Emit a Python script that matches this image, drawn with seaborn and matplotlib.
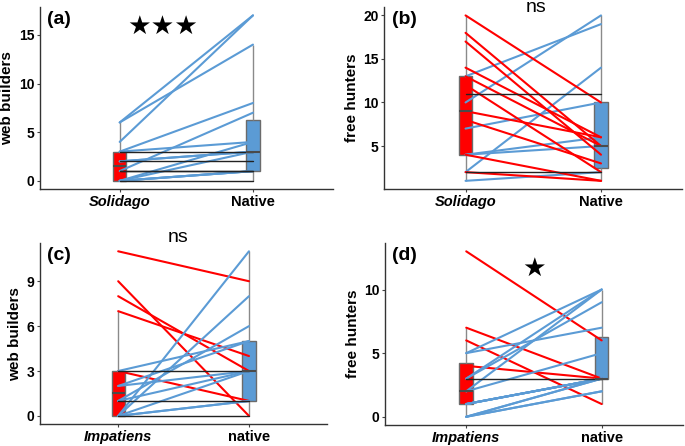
import matplotlib
matplotlib.use("Agg")
import matplotlib.pyplot as plt
import seaborn as sns
import pandas as pd

# pares (invasora -> nativa) em cada painel
a_inv = [6, 6, 4, 3, 3, 3, 1, 1, 1, 2, 2, 2, 0, 0, 0, 0, 0, 0]
a_nat = [17, 14, 17, 8, 4, 3, 7, 1, 1, 2, 3, 3, 0, 1, 1, 1, 3, 4]

b_inv = [10, 13, 2, 7, 4, 4, 1, 11, 2, 20, 18, 17, 14, 13, 12, 9, 8, 4, 2]
b_nat = [20, 19, 14, 10, 6, 5, 2, 11, 2, 10, 5, 4, 6, 5, 2, 6, 3, 1, 1]

c_inv = [11, 9, 8, 7, 3, 3, 1, 0, 0, 0, 1, 3, 2, 2, 1, 0, 0, 0]
c_nat = [9, 0, 3, 4, 1, 3, 1, 0, 11, 8, 6, 5, 5, 3, 3, 3, 1, 1]

d_inv = [13, 7, 6, 4, 3, 5, 5, 3, 3, 2, 2, 0, 0, 0, 0, 1, 1, 1, 1, 1]
d_nat = [6, 3, 1, 3, 3, 10, 7, 10, 9, 10, 5, 3, 3, 2, 2, 3, 3, 3, 3, 3]

groups_top = ["Solidago", "Native"]
groups_bottom = ["Impatiens", "native"]

RED = "#FF0000"
BLUE = "#5B9BD5"

sns.set_style("ticks")
plt.rcParams["font.family"] = ["Liberation Sans", "DejaVu Sans"]
plt.rcParams["text.color"] = "black"
plt.rcParams["axes.labelcolor"] = "black"
plt.rcParams["xtick.color"] = "black"
plt.rcParams["ytick.color"] = "black"


def make_long(inv, nat, groups):
    rows = []
    for i, (v0, v1) in enumerate(zip(inv, nat)):
        trend = "up" if v1 > v0 else ("down" if v1 < v0 else "same")
        rows.append(dict(pair=i, grp=groups[0], pos=0, value=v0, trend=trend))
        rows.append(dict(pair=i, grp=groups[1], pos=1, value=v1, trend=trend))
    return pd.DataFrame(rows)


def panel(ax, inv, nat, groups, ylabel, yticks, tag):
    df = make_long(inv, nat, groups)
    sns.boxplot(data=df, x="grp", y="value", hue="grp", order=groups,
                palette=[RED, BLUE], saturation=1, width=0.1, showfliers=False,
                linecolor="#6b6b6b", linewidth=1.0, legend=False,
                whiskerprops=dict(color="#8a8a8a", linewidth=1.0),
                capprops=dict(linewidth=0),
                medianprops=dict(color="#4a4a4a", linewidth=1.5), ax=ax)
    moved = df[df["trend"] != "same"]
    sns.lineplot(data=moved, x="pos", y="value", units="pair", estimator=None,
                 hue="trend", palette={"up": BLUE, "down": RED},
                 linewidth=1.5, legend=False, ax=ax)
    same = df[df["trend"] == "same"]
    if len(same):
        sns.lineplot(data=same, x="pos", y="value", units="pair", estimator=None,
                     color="#222222", linewidth=1.0, legend=False, ax=ax)

    lo, hi = min(inv + nat), max(inv + nat)
    pad = (hi - lo) * 0.05
    ax.set_ylim(lo - pad, hi + pad)
    ax.set_xlim(-0.6, 1.6)
    ax.set_xticks([0, 1])
    ax.set_xticklabels(groups, fontsize=10.5, fontweight="bold")
    ax.get_xticklabels()[0].set_fontstyle("italic")
    ax.set_yticks(yticks)
    ax.set_yticklabels([str(t) for t in yticks], fontsize=10, fontweight="bold")
    ax.set_xlabel("")
    ax.set_ylabel(ylabel, fontsize=11, fontweight="bold", labelpad=3)
    ax.tick_params(length=2, width=0.8, color="#444444", pad=2)
    for s in ["left", "bottom"]:
        ax.spines[s].set_color("#333333")
        ax.spines[s].set_linewidth(1.0)
    sns.despine(ax=ax)
    ax.text(0.025, 0.93, tag, transform=ax.transAxes, fontsize=14,
            fontweight="bold", va="center", ha="left", color="black")


fig = plt.figure(figsize=(6.85, 4.46), dpi=100)
ax_a = fig.add_axes([0.058, 0.576, 0.428, 0.408])
ax_b = fig.add_axes([0.561, 0.576, 0.435, 0.408])
ax_c = fig.add_axes([0.058, 0.049, 0.420, 0.406])
ax_d = fig.add_axes([0.562, 0.047, 0.435, 0.408])

panel(ax_a, a_inv, a_nat, groups_top, "web builders", [0, 5, 10, 15], "(a)")
panel(ax_b, b_inv, b_nat, groups_top, "free hunters", [5, 10, 15, 20], "(b)")
panel(ax_c, c_inv, c_nat, groups_bottom, "web builders", [0, 3, 6, 9], "(c)")
panel(ax_d, d_inv, d_nat, groups_bottom, "free hunters", [0, 5, 10], "(d)")

# marcas de significância
ax_a.text(0.42, 0.89, "★★★", transform=ax_a.transAxes, fontsize=19,
          family="DejaVu Sans", ha="center", va="center", color="black")
ax_b.text(0.51, 1.0, "ns", transform=ax_b.transAxes, fontsize=14,
          ha="center", va="center", color="black")
ax_c.text(0.48, 1.03, "ns", transform=ax_c.transAxes, fontsize=14,
          ha="center", va="center", color="black")
ax_d.text(0.50, 0.86, "★", transform=ax_d.transAxes, fontsize=19,
          family="DejaVu Sans", ha="center", va="center", color="black")

plt.savefig("out.png", dpi=100)
